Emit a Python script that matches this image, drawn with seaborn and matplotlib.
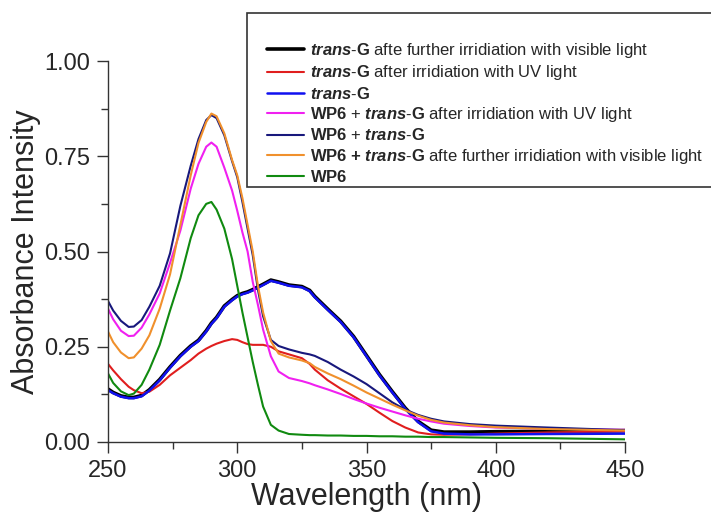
import numpy as np
import pandas as pd
import matplotlib
matplotlib.use("Agg")
import matplotlib.pyplot as plt
from matplotlib.patches import Rectangle
from matplotlib.ticker import MultipleLocator, FormatStrFormatter
import seaborn as sns

sns.set_style("ticks")
plt.rcParams['font.family'] = ['Liberation Sans', 'DejaVu Sans']
plt.rcParams['mathtext.fontset'] = 'custom'
plt.rcParams['mathtext.rm'] = 'Liberation Sans'
plt.rcParams['mathtext.it'] = 'Liberation Sans:italic'
plt.rcParams['mathtext.bf'] = 'Liberation Sans:bold'
plt.rcParams['mathtext.bfit'] = 'Liberation Sans:italic:bold'

wavelength = [250, 252, 255, 258, 260, 263, 266, 270, 274, 278, 282, 285, 288, 290, 292, 295,
              298, 300, 302, 304, 306, 308, 310, 313, 316, 320, 325, 328, 330, 335, 340, 345,
              350, 355, 360, 365, 370, 375, 380, 390, 400, 420, 450]

transG_vis = [0.139, 0.130, 0.121, 0.117, 0.117, 0.122, 0.137, 0.164, 0.197, 0.227, 0.252, 0.267,
              0.292, 0.312, 0.327, 0.357, 0.374, 0.384, 0.390, 0.394, 0.400, 0.407, 0.414, 0.425,
              0.420, 0.412, 0.408, 0.398, 0.382, 0.349, 0.317, 0.277, 0.227, 0.177, 0.132,
              0.089, 0.054, 0.031, 0.026, 0.026, 0.027, 0.028, 0.030]
transG_uv = [0.205, 0.188, 0.165, 0.145, 0.136, 0.128, 0.132, 0.150, 0.175, 0.195, 0.215, 0.232,
             0.245, 0.252, 0.258, 0.265, 0.270, 0.268, 0.262, 0.257, 0.255, 0.255, 0.255, 0.250,
             0.238, 0.230, 0.220, 0.205, 0.190, 0.162, 0.140, 0.120, 0.100, 0.077, 0.055,
             0.038, 0.025, 0.020, 0.019, 0.020, 0.022, 0.025, 0.028]
transG = [0.136, 0.128, 0.119, 0.115, 0.115, 0.120, 0.135, 0.162, 0.195, 0.225, 0.250, 0.265,
          0.290, 0.310, 0.325, 0.355, 0.372, 0.382, 0.388, 0.392, 0.398, 0.405, 0.412, 0.423,
          0.418, 0.410, 0.406, 0.396, 0.380, 0.347, 0.315, 0.275, 0.225, 0.175, 0.130,
          0.087, 0.052, 0.028, 0.022, 0.020, 0.020, 0.021, 0.022]
wp6_transG_uv = [0.350, 0.322, 0.292, 0.278, 0.279, 0.300, 0.335, 0.390, 0.470, 0.555, 0.665, 0.730,
                 0.775, 0.786, 0.775, 0.720, 0.660, 0.607, 0.550, 0.500, 0.420, 0.360, 0.295, 0.225,
                 0.185, 0.168, 0.160, 0.154, 0.149, 0.138, 0.126, 0.113, 0.101, 0.090, 0.080,
                 0.070, 0.061, 0.054, 0.048, 0.042, 0.038, 0.035, 0.032]
wp6_transG = [0.370, 0.345, 0.318, 0.302, 0.303, 0.320, 0.355, 0.410, 0.495, 0.620, 0.725, 0.795,
              0.845, 0.858, 0.850, 0.805, 0.737, 0.695, 0.630, 0.560, 0.490, 0.400, 0.330, 0.268,
              0.252, 0.243, 0.234, 0.230, 0.226, 0.210, 0.190, 0.172, 0.152, 0.128, 0.104,
              0.085, 0.071, 0.061, 0.054, 0.047, 0.043, 0.038, 0.031]
wp6_transG_vis = [0.290, 0.262, 0.235, 0.220, 0.222, 0.245, 0.280, 0.350, 0.440, 0.570, 0.700, 0.785,
                  0.840, 0.862, 0.855, 0.810, 0.740, 0.700, 0.640, 0.570, 0.500, 0.410, 0.340, 0.265,
                  0.232, 0.222, 0.214, 0.207, 0.197, 0.180, 0.165, 0.148, 0.130, 0.114, 0.098,
                  0.083, 0.069, 0.058, 0.051, 0.044, 0.039, 0.034, 0.030]
wp6 = [0.180, 0.155, 0.133, 0.123, 0.127, 0.150, 0.190, 0.255, 0.345, 0.430, 0.535, 0.595,
       0.625, 0.630, 0.610, 0.560, 0.480, 0.410, 0.340, 0.275, 0.210, 0.150, 0.093, 0.045,
       0.030, 0.021, 0.019, 0.018, 0.018, 0.017, 0.017, 0.016, 0.016, 0.015, 0.015,
       0.014, 0.014, 0.013, 0.013, 0.012, 0.011, 0.010, 0.007]

labels = [
    r"$\mathbfit{trans}$$\mathbf{\text{-}G}$ afte further irridiation with visible light",
    r"$\mathbfit{trans}$$\mathbf{\text{-}G}$ after irridiation with UV light",
    r"$\mathbfit{trans}$$\mathbf{\text{-}G}$",
    r"$\mathbf{WP6}$ + $\mathbfit{trans}$$\mathbf{\text{-}G}$ after irridiation with UV light",
    r"$\mathbf{WP6}$ + $\mathbfit{trans}$$\mathbf{\text{-}G}$",
    r"$\mathbf{WP6}$ $\mathbf{+}$ $\mathbfit{trans}$$\mathbf{\text{-}G}$ afte further irridiation with visible light",
    r"$\mathbf{WP6}$",
]
series = [transG_vis, transG_uv, transG, wp6_transG_uv, wp6_transG, wp6_transG_vis, wp6]
colors = ["#000000", "#e01e1e", "#1010f0", "#f020f0", "#18187c", "#f0902c", "#108a10"]
widths = [2.6, 1.5, 1.8, 1.5, 1.5, 1.5, 1.5]

fig = plt.figure(figsize=(7.11, 5.12), dpi=100)
ax = fig.add_axes([108/711, 1-442/512, (625-108)/711, (442-61)/512])

for lab, vals, c, w in zip(labels, series, colors, widths):
    df = pd.DataFrame({"Wavelength": wavelength, "Abs": vals})
    sns.lineplot(data=df, x="Wavelength", y="Abs", ax=ax, color=c, lw=w, label=lab, legend=False)

ax.set_xlim(250, 450)
ax.set_ylim(0, 1.0)
ax.xaxis.set_major_locator(MultipleLocator(50))
ax.xaxis.set_minor_locator(MultipleLocator(25))
ax.yaxis.set_major_locator(MultipleLocator(0.25))
ax.yaxis.set_minor_locator(MultipleLocator(0.125))
ax.yaxis.set_major_formatter(FormatStrFormatter('%.2f'))
ax.tick_params(which='major', length=8, width=1, labelsize=17, pad=5, color='#333333')
ax.tick_params(which='minor', length=5, width=1, color='#333333')
for s in ['top', 'right']:
    ax.spines[s].set_visible(False)
for s in ['left', 'bottom']:
    ax.spines[s].set_color('#333333')
    ax.spines[s].set_linewidth(1)
ax.set_xlabel("Wavelength (nm)", fontsize=22, labelpad=0)
ax.set_ylabel("Absorbance Intensity", fontsize=22, labelpad=2)

# legend frame (extends beyond right edge like the reference)
rect = Rectangle((247/711, 1-187/512), (720-247)/711, (187-13)/512, transform=fig.transFigure,
                 fill=True, facecolor='white', edgecolor='#333333', lw=1.2, zorder=5, clip_on=False)
fig.patches.append(rect)
h, l = ax.get_legend_handles_labels()
leg = fig.legend(h, l, loc='upper left', bbox_to_anchor=(267/711, 1-41/512), frameon=False,
                 fontsize=12, handlelength=2.2, handletextpad=0.36, labelspacing=0.2,
                 borderaxespad=0, borderpad=0)
leg.set_zorder(6)

fig.savefig("out.png", dpi=100)
